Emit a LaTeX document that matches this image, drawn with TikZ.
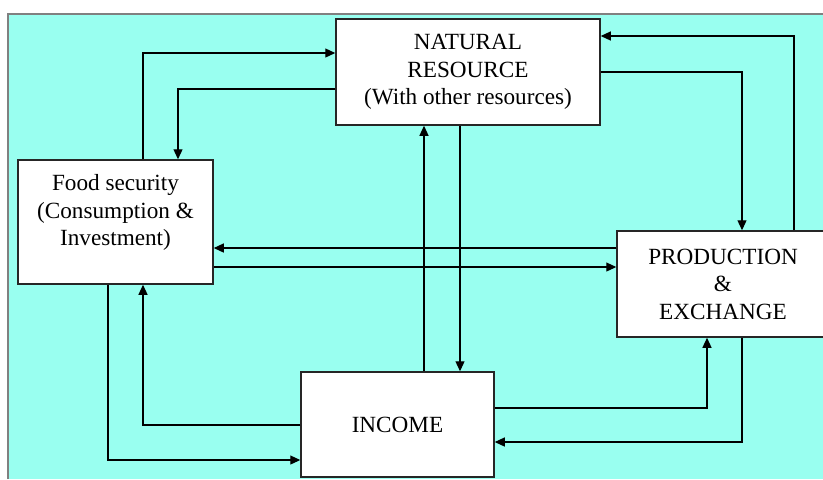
\documentclass[tikz,border=0pt]{standalone}
\usepackage{fontspec}
\setmainfont{Liberation Serif}
\usetikzlibrary{arrows.meta}

\definecolor{aqua}{RGB}{153,255,240}

\begin{document}
\begin{tikzpicture}
          [x=0.5pt,y=-0.5pt,
          font=\fontsize{11.6}{13.75}\selectfont,
          box/.style={shape=rectangle,draw=black!85,fill=white,text=black,align=center,line width=0.75pt,inner sep=0pt},
          arc/.style={-{Triangle[length=5pt,width=4.5pt]},line width=0.6pt}]

          \useasboundingbox (0,0) rectangle (823,479);
          \clip (0,0) rectangle (823,479);
          \fill [aqua] (8,14) rectangle (823,479);
          \draw [gray,line width=1pt] (8,479) -- (8,14) -- (823,14);

            \node (nat) [box,minimum width=132pt,minimum height=53pt] at (468,72) {NATURAL\\RESOURCE\\(With other resources)};
            \node (food) [box,minimum width=97.5pt,minimum height=62pt,text depth=12pt] at (115.5,222) {Food security\\(Consumption \&\\Investment)};
            \node (prod) [box,minimum width=106pt,minimum height=53pt] at (723,284) {PRODUCTION\\\&\\EXCHANGE};
            \node (inc) [box,minimum width=96.5pt,minimum height=52.5pt] at (397.5,424.5) {INCOME};

          \coordinate (F1) at (143,53);
          \coordinate (F2) at (178,89);
          \coordinate (P1) at (794,36);
          \coordinate (P2) at (742,72);
          \coordinate (N1) at (424,0);
          \coordinate (N2) at (460,0);
          \coordinate (H1) at (0,248);
          \coordinate (H2) at (0,267);
          \coordinate (I1) at (143,425);
          \coordinate (I2) at (108,460);
          \coordinate (I3) at (707,408);
          \coordinate (I4) at (742,442);

          \draw [arc] (food.north -| F1) |- (nat.west |- F1);
            \draw [arc] (nat.west |- F2) -| (food.north -| F2);
            \draw [arc] (prod.north -| P1) |- (nat.east |- P1);
            \draw [arc] (nat.east |- P2) -| (prod.north -| P2);
            \draw [arc] (inc.north -| N1) -- (nat.south -| N1);
            \draw [arc] (nat.south -| N2) -- (inc.north -| N2);
            \draw [arc] (prod.west |- H1) -- (food.east |- H1);
            \draw [arc] (food.east |- H2) -- (prod.west |- H2);
            \draw [arc] (inc.west |- I1) -| (food.south -| I1);
            \draw [arc] (food.south -| I2) |- (inc.west |- I2);
            \draw [arc] (inc.east |- I3) -| (prod.south -| I3);
            \draw [arc] (prod.south -| I4) |- (inc.east |- I4);

        \end{tikzpicture}
\end{document}
